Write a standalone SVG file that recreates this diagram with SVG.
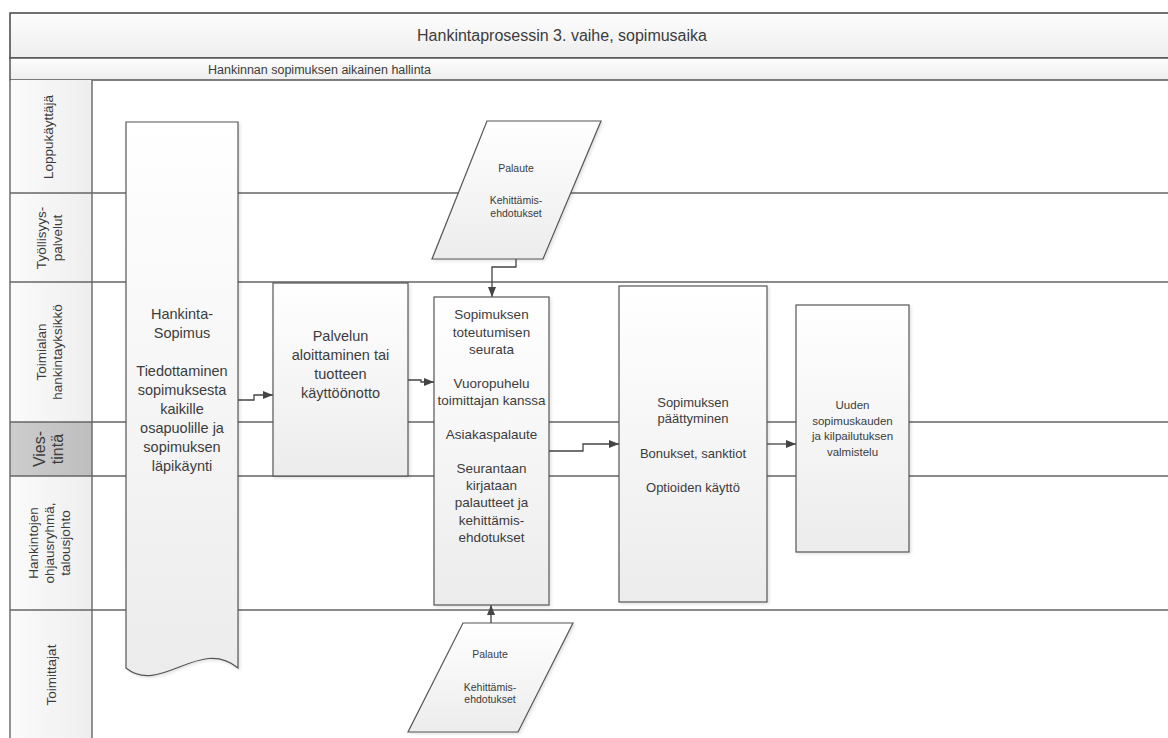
<svg xmlns="http://www.w3.org/2000/svg" width="1168" height="738" viewBox="0 0 1168 738">
<style>
text{font-family:"Liberation Sans",Arial,sans-serif;fill:#3c3c3c;text-anchor:middle}
.lane{stroke:#666;stroke-width:1.4;fill:none}
.node{fill:url(#g);stroke:#555;stroke-width:1.2}
.con{fill:none;stroke:#444;stroke-width:1.3;marker-end:url(#arr)}
.lbl{font-size:13.5px}
.t1{font-size:14.5px}
.t2{font-size:13.5px}
.t3{font-size:13px}
.t4{font-size:11.5px}
.t5{font-size:10.5px}
</style>
<defs>
<linearGradient id="g" x1="0" y1="0" x2="0" y2="1"><stop offset="0" stop-color="#ffffff"/><stop offset="1" stop-color="#ececec"/></linearGradient>
<linearGradient id="hb" x1="0" y1="0" x2="0" y2="1"><stop offset="0" stop-color="#fdfdfd"/><stop offset="1" stop-color="#eeeeee"/></linearGradient>
<linearGradient id="hc" x1="0" y1="0" x2="1" y2="0"><stop offset="0" stop-color="#fbfbfb"/><stop offset="1" stop-color="#eeeeee"/></linearGradient>
<linearGradient id="hv" x1="0" y1="0" x2="1" y2="0"><stop offset="0" stop-color="#cdcdcd"/><stop offset="1" stop-color="#bebebe"/></linearGradient>
<filter id="sh" x="-5%" y="-5%" width="115%" height="115%"><feDropShadow dx="1.5" dy="1.5" stdDeviation="1.5" flood-color="#000" flood-opacity="0.12"/></filter>
<marker id="arr" markerUnits="userSpaceOnUse" markerWidth="11" markerHeight="9" refX="10" refY="4" orient="auto"><path d="M0,0 L10,4 L0,8 z" fill="#444"/></marker>
</defs>
<rect width="1168" height="738" fill="#ffffff"/>
<g id="frame">
<rect x="10" y="13" width="1170" height="45" fill="url(#hb)" stroke="#444" stroke-width="1.5"/>
<rect x="10" y="58" width="1170" height="22" fill="url(#hb)" stroke="#555" stroke-width="1.5"/>
<text x="562" y="41" style="font-size:16px">Hankintaprosessin 3. vaihe, sopimusaika</text>
<text x="319.5" y="74" style="font-size:12.5px">Hankinnan sopimuksen aikainen hallinta</text>
</g>
<g id="lanes">
<rect x="10" y="80" width="82" height="113" fill="url(#hc)"/>
<rect x="10" y="193" width="82" height="89" fill="url(#hc)"/>
<rect x="10" y="282" width="82" height="140" fill="url(#hc)"/>
<rect x="10" y="422" width="82" height="54" fill="url(#hv)"/>
<rect x="10" y="476" width="82" height="134" fill="url(#hc)"/>
<rect x="10" y="610" width="82" height="140" fill="url(#hc)"/>
<path class="lane" d="M10,80 V738 M92,80 V738 M10,193 H1168 M10,282 H1168 M10,422 H1168 M10,476 H1168 M10,610 H1168"/>
<g transform="translate(48,137) rotate(-90)"><text class="lbl" y="4.5">Loppukäyttäjä</text></g>
<g transform="translate(49,238) rotate(-90)"><text class="lbl" y="-3">Työllisyys-</text><text class="lbl" y="12.5">palvelut</text></g>
<g transform="translate(49,352) rotate(-90)"><text class="lbl" y="-3">Toimialan</text><text class="lbl" y="12.5">hankintayksikkö</text></g>
<g transform="translate(48,449) rotate(-90)"><text style="font-size:16px" y="-3">Vies-</text><text style="font-size:16px" y="14.5">tintä</text></g>
<g transform="translate(50,543) rotate(-90)"><text class="lbl" y="-12">Hankintojen</text><text class="lbl" y="4">ohjausryhmä,</text><text class="lbl" y="20">talousjohto</text></g>
<g transform="translate(51,675) rotate(-90)"><text class="lbl" y="4.5">Toimittajat</text></g>
</g>
<g id="connectors">
<path class="con" d="M238,400 H254 V395 H273"/>
<path class="con" d="M408,380 H421 V382 H434"/>
<path class="con" d="M516,259 V267 H492 V297"/>
<path class="con" d="M491,623 V605"/>
<path class="con" d="M549,451 H583 V444 H619"/>
<path class="con" d="M767,444 H796"/>
</g>
<g id="n_sopimus">
<path class="node" filter="url(#sh)" d="M126,122 H238 V668 C200,636 160,696 126,668 Z"/>
<text class="t1" x="182" y="319">Hankinta-</text>
<text class="t1" x="182" y="338">Sopimus</text>
<text class="t1" x="182" y="376">Tiedottaminen</text>
<text class="t1" x="182" y="395">sopimuksesta</text>
<text class="t1" x="182" y="414">kaikille</text>
<text class="t1" x="182" y="433">osapuolille ja</text>
<text class="t1" x="182" y="452">sopimuksen</text>
<text class="t1" x="182" y="471">läpikäynti</text>
</g>
<g id="n_palvelun">
<rect class="node" filter="url(#sh)" x="273" y="283" width="135" height="193"/>
<text class="t1" x="340.5" y="341">Palvelun</text>
<text class="t1" x="340.5" y="360">aloittaminen tai</text>
<text class="t1" x="340.5" y="379">tuotteen</text>
<text class="t1" x="340.5" y="398">käyttöönotto</text>
</g>
<g id="n_palaute_top">
<polygon class="node" filter="url(#sh)" points="487,121 601,121 543,259 432,259"/>
<text class="t5" x="516" y="172">Palaute</text>
<text class="t5" x="516" y="204">Kehittämis-</text>
<text class="t5" x="516" y="217">ehdotukset</text>
</g>
<g id="n_seuranta">
<rect class="node" filter="url(#sh)" x="434" y="297" width="115" height="308"/>
<text class="t2" x="491.5" y="319">Sopimuksen</text>
<text class="t2" x="491.5" y="337">toteutumisen</text>
<text class="t2" x="491.5" y="354">seurata</text>
<text class="t2" x="491.5" y="388">Vuoropuhelu</text>
<text class="t2" x="491.5" y="405">toimittajan kanssa</text>
<text class="t2" x="491.5" y="439">Asiakaspalaute</text>
<text class="t2" x="491.5" y="473">Seurantaan</text>
<text class="t2" x="491.5" y="490">kirjataan</text>
<text class="t2" x="491.5" y="507">palautteet ja</text>
<text class="t2" x="491.5" y="525">kehittämis-</text>
<text class="t2" x="491.5" y="542">ehdotukset</text>
</g>
<g id="n_palaute_bottom">
<polygon class="node" filter="url(#sh)" points="463,623 573,623 518,732 408,732"/>
<text class="t5" x="490" y="658">Palaute</text>
<text class="t5" x="490" y="691">Kehittämis-</text>
<text class="t5" x="490" y="703">ehdotukset</text>
</g>
<g id="n_paattyminen">
<rect class="node" filter="url(#sh)" x="619" y="286" width="148" height="316"/>
<text class="t3" x="693" y="407">Sopimuksen</text>
<text class="t3" x="693" y="423">päättyminen</text>
<text class="t3" x="693" y="458">Bonukset, sanktiot</text>
<text class="t3" x="693" y="492">Optioiden käyttö</text>
</g>
<g id="n_uuden">
<rect class="node" filter="url(#sh)" x="796" y="305" width="113" height="247"/>
<text class="t4" x="852.5" y="409">Uuden</text>
<text class="t4" x="852.5" y="425">sopimuskauden</text>
<text class="t4" x="852.5" y="440">ja kilpailutuksen</text>
<text class="t4" x="852.5" y="456">valmistelu</text>
</g>
</svg>
